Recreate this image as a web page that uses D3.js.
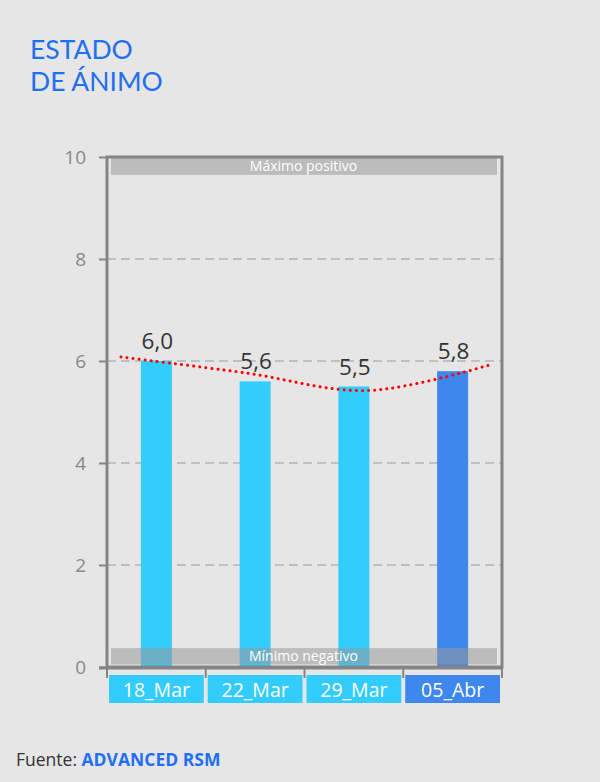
<!DOCTYPE html>
<html><head><meta charset="utf-8">
<script src="https://cdn.jsdelivr.net/npm/d3@7"></script>
<style>
html,body{margin:0;padding:0;background:#e6e6e6;}
svg{display:block;font-family:"Open Sans","Noto Sans",sans-serif;}
</style></head>
<body>
<svg id="c" width="600" height="782"></svg>
<script>
const categories = ["18_Mar","22_Mar","29_Mar","05_Abr"];
const values = [6.0, 5.6, 5.5, 5.8];
const valueLabels = ["6,0","5,6","5,5","5,8"];
const barColors = ["#33ccff","#33ccff","#33ccff","#3d87ee"];
const trendValues = [6.08, 5.77, 5.42, 5.93];
const yTicks = [0,2,4,6,8,10];
const gridTicks = [2,4,6,8];
const bandLabels = ["Máximo positivo","Mínimo negativo"];
const titleLines = ["ESTADO","DE ÁNIMO"];

const svg = d3.select("#c");
const L = 107, R = 502, T = 157, B = 667;
const x = d3.scaleBand().domain(categories).range([L, R]).paddingInner(0).paddingOuter(0);
const y = d3.scaleLinear().domain([0,10]).range([B, T]);
const xt = d3.scalePoint().domain(categories).range([121, 491]);

// title
svg.append("g").selectAll("text").data(titleLines).join("text")
  .attr("x",30).attr("y",(d,i)=>58.5+i*32.5).attr("fill","#1f6ff2")
  .attr("font-family","Lato,'Open Sans',sans-serif")
  .attr("font-size",26.5).text(d=>d);

// gridlines
svg.append("g").selectAll("line").data(gridTicks).join("line")
  .attr("x1",L).attr("x2",R).attr("y1",d=>y(d)).attr("y2",d=>y(d))
  .attr("stroke","#9a9a9a").attr("stroke-width",1).attr("stroke-dasharray","9,5");

// bars
const bw = 31;
svg.append("g").selectAll("rect").data(values).join("rect")
  .attr("x",(d,i)=>x(categories[i])+x.bandwidth()/2-bw/2)
  .attr("width",bw)
  .attr("y",d=>y(d)).attr("height",d=>y(0)-y(d))
  .attr("fill",(d,i)=>barColors[i]);

// bands
const bandY = [[10, 9.65],[0.37, 0.05]];
bandLabels.forEach((lab,i)=>{
  const g = svg.append("g");
  g.append("rect").attr("x",L+4).attr("width",R-L-9)
    .attr("y",y(bandY[i][0])).attr("height",y(bandY[i][1])-y(bandY[i][0]))
    .attr("fill","#999").attr("fill-opacity",0.55);
  g.append("text").attr("x",(L+R)/2-1).attr("y",(y(bandY[i][0])+y(bandY[i][1]))/2+5)
    .attr("text-anchor","middle").attr("fill","#fff").attr("font-size",14).text(lab);
});

// plot border
svg.append("rect").attr("x",L).attr("y",T).attr("width",R-L).attr("height",B-T)
  .attr("fill","none").attr("stroke","#848484").attr("stroke-width",3);

// y axis
const ya = svg.append("g").attr("transform",`translate(${L},0)`)
  .call(d3.axisLeft(y).tickValues(yTicks).tickSize(8).tickPadding(13).tickFormat(d3.format("d")));
ya.select(".domain").remove();
ya.selectAll(".tick line").attr("stroke","#848484").attr("stroke-width",2);
ya.selectAll(".tick text").attr("fill","#888").attr("font-size",19)
  .attr("font-family","'Open Sans',sans-serif");

// x axis
const xa = svg.append("g").attr("transform",`translate(0,${B+1})`)
  .call(d3.axisBottom(x).tickSize(0).tickFormat(""));
xa.select(".domain").attr("stroke","#848484").attr("stroke-width",3)
  .attr("d",`M99,0H${R+1}`);
const bounds = categories.map(c=>x(c)).concat([R]);
xa.append("g").selectAll("line").data(bounds).join("line")
  .attr("x1",d=>d).attr("x2",d=>d).attr("y1",0).attr("y2",10)
  .attr("stroke","#848484").attr("stroke-width",2);

// category boxes
const cg = svg.append("g");
categories.forEach((c,i)=>{
  cg.append("rect").attr("x",x(c)+2).attr("y",675).attr("width",x.bandwidth()-4).attr("height",28)
    .attr("fill",barColors[i]);
  cg.append("text").attr("x",x(c)+x.bandwidth()/2).attr("y",696.5).attr("text-anchor","middle")
    .attr("fill","#fff").attr("font-size",19.5).text(c);
});

// trend line
svg.append("path").datum(trendValues)
  .attr("d",d3.line().x((d,i)=>xt(categories[i])).y(d=>y(d)).curve(d3.curveCatmullRom))
  .attr("fill","none").attr("stroke","#ff0000").attr("stroke-width",3)
  .attr("stroke-dasharray","0.1,6").attr("stroke-linecap","round");

// value labels
svg.append("g").selectAll("text").data(values).join("text")
  .attr("x",(d,i)=>x(categories[i])+x.bandwidth()/2+1)
  .attr("y",d=>y(d)-12)
  .attr("text-anchor","middle").attr("fill","#333").attr("font-size",22.5)
  .text((d,i)=>valueLabels[i]);

// source
const src = svg.append("text").attr("x",16).attr("y",766).attr("font-size",17.5).attr("fill","#333");
src.append("tspan").text("Fuente: ");
src.append("tspan").attr("fill","#1f6ff2").attr("font-weight","bold").text("ADVANCED RSM");
</script>
</body></html>
